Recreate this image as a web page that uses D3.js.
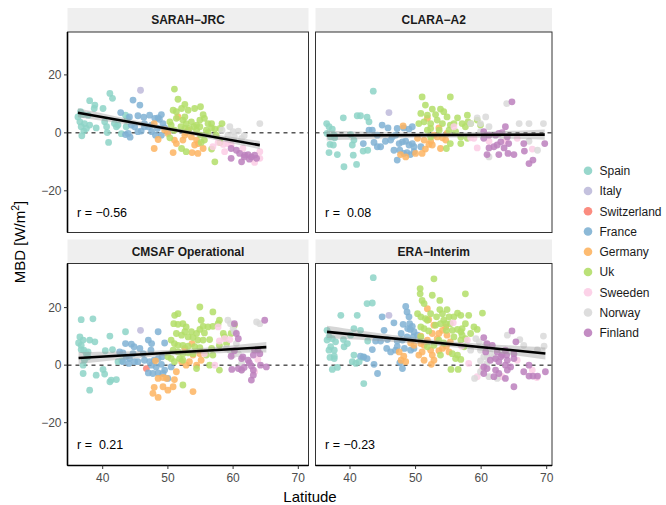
<!DOCTYPE html>
<html>
<head>
<meta charset="utf-8">
<script src="https://cdn.jsdelivr.net/npm/d3@7"></script>
<style>
  body { margin: 0; background: #fff; }
  text { font-family: "Liberation Sans", Arial, sans-serif; }
</style>
</head>
<body>
<svg id="chart" width="666" height="505"></svg>
<script>
// countries + Set3 colours (yellow skipped)
const countries = ["Spain", "Italy", "Switzerland", "France", "Germany", "Uk", "Sweeden", "Norway", "Finland"]
const colors = ["#8DD3C7", "#BEBADA", "#FB8072", "#80B1D3", "#FDB462", "#B3DE69", "#FCCDE5", "#D9D9D9", "#BC80BD"]

const panelNames = ["SARAH\u2212JRC", "CLARA\u2212A2", "CMSAF Operational", "ERA\u2212Interim"]
const rLabels = ["r = \u22120.56", "r =  0.08", "r =  0.21", "r = \u22120.23"]
const xTicks = [40, 50, 60, 70]
const yTicks = [-20, 0, 20]

// [latitude, MBD] per country, same order as countries
const sarah = [
  [[36.6,7.3],[36.2,5.5],[37.0,6.3],[36.5,3.8],[37.2,3.2],[36.7,2.1],[37.1,0.6],[36.8,-1.0],[37.5,1.5],[38.0,11.1],[38.7,8.4],[37.75,6.1],[38.0,2.7],[38.8,9.6],[39.0,1.7],[40.05,8.4],[40.3,3.8],[40.6,2.1],[40.7,0.1],[41.1,13.6],[41.5,11.9],[40.9,-3.3],[41.8,3.2],[42.1,2.1],[42.35,2.7],[42.86,-0.3],[43.5,6.1],[43.8,5.0],[43.6,2.1]],
  [[45.8,14.7]],
  [],
  [[42.76,7.0],[44.1,5.5],[44.65,11.3],[45.7,9.6],[45.4,5.9],[46.3,5.4],[47.2,6.1],[46.4,3.2],[44.9,2.1],[43.9,-0.2],[43.5,-0.6],[44.2,-1.5],[45.9,0.6],[47.0,2.1],[48.0,5.0],[48.5,5.2],[49.0,6.3],[48.7,4.7],[49.25,3.2],[47.5,0.4],[48.1,-0.8],[49.0,-0.8],[49.5,1.7],[50.0,0.4],[48.4,1.5],[46.4,2.1],[45.4,0.4],[47.5,2.7],[44.4,2.7]],
  [[47.9,3.2],[48.5,-2.3],[47.9,-5.4],[49.5,1.0],[51.55,5.5],[50.0,-0.2],[51.0,-2.5],[51.3,-3.7],[50.8,-6.8],[52.3,-2.5],[52.6,-0.8],[52.8,0.1],[53.6,-1.4],[54.1,-4.2],[54.4,-2.5],[54.7,-3.7],[53.7,-6.8],[54.6,-7.1],[55.4,-5.4],[53.1,0.9]],
  [[51.0,15.1],[51.55,11.6],[52.6,9.8],[50.8,7.8],[51.3,7.3],[52.1,8.4],[53.1,7.8],[54.1,8.4],[55.0,9.0],[55.4,6.3],[54.9,4.4],[55.6,5.0],[56.15,3.2],[56.7,3.2],[56.7,1.7],[52.3,4.4],[52.8,3.2],[53.6,3.8],[54.4,2.7],[54.0,2.1],[53.3,1.5],[50.5,2.7],[51.0,0.9],[52.0,2.1],[52.6,1.5],[54.4,0.9],[55.0,-0.8],[56.15,0.1],[57.2,1.3],[58.0,1.5],[58.3,3.2],[57.4,-0.8],[50.3,-1.7],[52.1,-5.4],[52.8,-6.5],[56.7,-5.6],[57.2,-10.0],[55.6,-2.5],[55.1,-3.3],[58.0,-3.3],[55.9,0.9],[51.3,5.0],[52.6,5.5],[50.3,3.8],[54.9,2.1]],
  [[56.9,-4.8],[57.7,-3.3],[58.7,-6.5],[59.2,-3.7],[59.7,-4.2],[61.5,-5.4],[63.3,-10.2],[64.1,-6.5],[64.1,-8.8],[58.5,-4.0]],
  [[58.3,0.9],[59.5,2.1],[60.0,0.4],[60.8,0.6],[61.3,-1.9],[59.2,-0.8],[60.2,-1.4],[64.1,3.2],[61.7,-1.0]],
  [[59.7,-5.4],[60.5,-6.0],[61.0,-7.1],[59.7,-8.8],[61.3,-10.0],[61.8,-7.7],[62.3,-7.5],[62.8,-8.3],[63.3,-7.7],[63.6,-8.8],[62.5,-9.1],[61.7,-8.3]]
]

const clara = [
  [[36.44,3.2],[36.8,2.1],[37.3,1.3],[36.5,-0.2],[37.05,-1.4],[37.66,-1.7],[36.95,-4.0],[37.46,-4.2],[36.8,-6.8],[38.07,-7.5],[38.98,5.2],[39.08,-11.7],[40.35,-4.2],[40.6,-2.5],[40.5,-7.7],[41.1,5.9],[41.6,5.9],[41.0,-10.9],[42.0,-6.3],[42.6,5.4],[42.9,3.8],[42.7,-6.0],[43.55,14.4],[37.6,-0.8],[40.1,-0.6]],
  [[45.94,7.0]],
  [],
  [[42.9,0.9],[43.4,0.9],[44.16,-0.8],[44.9,2.7],[45.8,1.7],[43.66,-3.3],[44.16,-4.8],[44.67,-4.8],[45.4,-2.9],[46.2,-2.5],[46.96,-0.8],[47.2,1.5],[48.2,1.7],[49.0,1.3],[49.5,2.1],[42.03,-3.7],[47.5,-3.7],[48.0,-3.1],[48.5,-2.9],[49.0,-4.2],[49.5,-3.7],[49.75,-4.8],[47.6,-6.0],[48.2,-7.1],[48.7,-6.8],[49.2,-7.5],[49.75,-6.5],[47.2,-9.4],[46.45,-1.4],[50.8,-4.8],[46.7,-6.0]],
  [[48.1,2.4],[51.8,5.0],[53.56,1.7],[52.8,-0.8],[51.3,-2.5],[52.3,-2.9],[53.3,-1.4],[54.1,-1.7],[54.6,-2.5],[52.04,-4.0],[52.55,-4.2],[51.5,-5.6],[51.0,-7.1],[53.8,-5.4],[54.8,-0.2],[50.3,-1.9],[48.5,-8.3],[47.7,-7.5],[50.0,-7.1]],
  [[51.0,12.4],[55.3,12.4],[51.5,9.6],[52.55,8.2],[53.8,8.2],[54.3,7.3],[50.8,6.7],[51.8,6.1],[53.05,6.3],[54.8,5.5],[56.4,5.2],[57.1,3.2],[57.9,6.1],[58.4,3.2],[50.5,3.2],[51.3,3.8],[52.3,3.2],[53.3,4.4],[54.1,3.2],[55.3,2.7],[55.85,3.2],[57.6,2.1],[58.0,3.8],[51.8,0.9],[52.3,1.5],[53.6,0.9],[55.1,0.9],[56.1,0.4],[56.9,-1.4],[57.9,-1.9],[59.4,4.4],[59.9,2.7],[55.3,-3.7],[56.9,-3.7],[54.7,-5.4],[52.3,-1.4]],
  [[55.85,2.1],[58.4,-1.7],[59.4,-5.2],[61.2,-2.9],[63.7,-2.9],[63.9,-1.7],[65.5,-1.9],[67.8,-5.6],[58.9,-1.9]],
  [[58.4,3.2],[59.4,5.2],[59.9,3.2],[60.7,5.5],[61.2,2.1],[63.9,10.1],[65.8,3.2],[67.3,3.2],[69.5,3.2],[61.2,-8.3],[67.3,-2.9],[68.6,-6.0],[59.9,0.4]],
  [[60.4,0.4],[61.2,-0.8],[62.2,-0.8],[62.7,-0.2],[63.2,0.1],[63.7,2.1],[64.0,-1.4],[64.2,-3.7],[63.0,-3.1],[61.95,-4.8],[62.45,-4.2],[63.5,-5.2],[60.9,-7.5],[61.2,-5.2],[62.7,-7.5],[64.1,-7.1],[65.0,-7.5],[64.7,10.7],[66.5,-3.7],[66.6,-6.3],[67.3,-10.6],[67.9,-9.4],[69.7,-3.7],[60.4,-1.9]]
]

const cmsaf = [
  [[36.7,15.8],[38.5,16.1],[36.5,9.8],[36.3,7.7],[37.0,8.7],[36.7,5.4],[37.1,5.2],[37.5,4.0],[37.75,2.9],[37.2,1.7],[37.0,0.0],[37.0,-2.9],[38.0,8.7],[38.8,8.1],[38.0,-8.7],[39.0,-3.5],[40.05,-1.5],[40.3,-3.1],[41.1,-5.8],[41.3,-5.2],[42.1,-5.0],[40.4,5.0],[41.1,10.1],[41.5,5.4],[42.35,1.2],[42.9,1.5],[43.5,11.6],[36.7,6.9],[37.75,4.6]],
  [[45.8,12.1]],
  [[46.7,-1.2]],
  [[42.6,4.6],[43.1,4.3],[43.5,7.5],[44.4,7.3],[44.8,6.4],[43.1,1.2],[43.6,2.9],[44.1,2.3],[44.65,4.0],[44.9,1.2],[45.4,1.2],[46.2,4.0],[47.0,8.7],[47.5,7.5],[47.4,5.2],[48.5,11.6],[49.5,7.7],[46.4,1.7],[47.2,1.2],[47.9,1.7],[48.5,2.3],[49.1,2.9],[47.5,0.0],[48.2,-0.6],[49.0,0.3],[49.5,-1.7],[47.0,-2.7],[47.7,-2.9],[48.5,-2.7],[49.25,-2.9],[50.5,-0.6],[50.0,-4.6],[45.7,5.8],[44.0,0.6]],
  [[48.1,1.5],[48.5,-4.6],[49.25,-4.3],[49.8,-4.6],[47.9,-7.7],[47.7,-9.8],[48.5,-11.2],[49.25,-7.5],[50.0,-8.7],[51.0,-5.0],[50.8,-7.5],[51.3,-2.3],[52.1,1.2],[52.8,0.0],[53.3,1.2],[53.85,3.5],[52.6,5.8],[53.7,7.5],[54.9,4.0],[55.1,1.7],[55.6,4.3],[53.85,-9.2],[54.4,0.0]],
  [[51.04,17.3],[51.55,17.9],[50.9,14.4],[54.9,20.2],[56.9,18.5],[57.9,15.6],[55.1,15.6],[55.4,13.5],[52.3,14.4],[52.8,13.3],[52.6,11.6],[53.6,11.6],[54.4,11.0],[54.9,12.4],[55.6,11.2],[56.15,13.3],[56.9,13.5],[57.7,14.4],[51.3,11.0],[52.1,10.4],[53.1,9.8],[53.85,9.6],[54.6,8.7],[55.4,8.7],[56.4,8.9],[50.5,8.7],[51.0,7.5],[51.55,6.9],[52.3,6.9],[53.1,6.6],[54.1,6.4],[54.9,6.1],[50.8,5.2],[51.55,4.6],[52.3,4.0],[53.1,4.3],[53.85,4.0],[56.7,5.8],[57.9,6.9],[58.7,9.8],[59.7,11.0],[60.2,13.9],[50.5,2.3],[51.0,1.2],[51.8,2.3],[52.3,1.7],[54.4,-1.2],[55.9,3.5],[56.4,0.0],[57.9,-1.7],[56.9,3.5],[58.5,11.0],[59.0,7.5],[52.3,-6.9],[50.0,2.9],[51.55,14.2]],
  [[57.7,13.3],[57.9,8.4],[58.7,9.2],[59.5,8.9],[55.6,4.0],[63.8,2.0],[63.3,-2.3],[57.2,0.0],[60.2,4.0]],
  [[59.2,15.6],[59.6,14.4],[60.0,12.7],[60.2,11.6],[60.5,7.5],[59.5,5.2],[60.0,3.5],[60.8,4.0],[61.3,0.6],[63.6,15.0],[64.1,14.4],[61.3,-1.7],[59.0,5.8]],
  [[60.2,14.4],[60.5,11.0],[60.8,9.2],[64.85,15.6],[60.2,5.0],[61.3,2.3],[61.5,2.9],[62.3,1.7],[63.1,3.5],[63.3,5.2],[63.8,5.2],[64.1,4.0],[62.5,0.8],[62.8,-0.3],[63.1,-1.7],[59.8,-1.5],[60.8,-1.2],[61.7,-0.8],[61.3,-1.7],[63.1,-3.5],[62.8,-5.2],[65.1,-0.6],[64.2,0.0],[59.7,3.1]]
]

const era = [
  [[36.5,12.1],[36.8,9.8],[36.5,8.7],[37.3,9.2],[37.8,8.1],[37.05,6.4],[36.8,5.2],[37.6,5.2],[36.95,2.7],[37.6,2.3],[37.3,-1.5],[38.07,-0.8],[38.6,17.3],[39.0,8.9],[39.1,6.4],[39.6,7.5],[40.1,10.4],[40.6,3.5],[40.35,1.2],[40.9,0.6],[41.1,17.3],[41.4,1.2],[42.0,2.7],[42.1,-6.4],[41.6,12.1],[42.6,21.4],[42.7,8.4],[43.55,30.4],[43.4,21.6],[37.6,3.1],[40.6,12.7]],
  [[45.94,17.3]],
  [],
  [[41.6,3.1],[42.1,2.9],[42.6,2.3],[43.4,5.4],[43.66,0.3],[44.2,-2.9],[43.9,8.4],[44.67,8.4],[44.9,16.8],[45.2,12.1],[45.7,8.9],[45.6,5.8],[46.7,14.7],[46.2,4.6],[46.96,5.2],[47.2,8.4],[47.8,11.0],[48.0,8.7],[48.1,14.2],[48.5,20.4],[48.7,18.5],[49.0,16.8],[49.1,14.4],[49.2,12.4],[49.75,11.6],[49.65,9.8],[50.3,10.4],[48.7,9.8],[48.3,5.8],[49.75,5.8],[49.25,5.2],[48.0,-1.2],[47.6,0.8],[48.8,12.7],[49.5,13.5],[47.2,6.4]],
  [[47.5,4.6],[47.8,1.7],[48.5,1.2],[49.25,7.7],[49.75,6.9],[50.8,7.5],[50.5,3.5],[51.0,4.6],[51.8,19.6],[52.0,15.8],[52.8,13.9],[52.55,11.0],[53.56,11.0],[53.3,9.2],[54.1,12.1],[54.6,13.3],[54.8,10.4],[52.3,5.2],[52.55,3.5],[53.56,5.0],[54.1,5.8],[54.7,6.6],[55.1,4.6],[51.3,1.7],[52.8,1.7],[50.8,10.1],[51.8,8.7],[51.3,6.9],[55.3,8.1],[52.4,0.3],[48.2,3.1]],
  [[50.7,26.6],[50.7,24.8],[51.0,22.5],[51.3,21.4],[51.8,15.6],[52.55,24.3],[52.8,30.0],[53.7,22.5],[53.7,19.3],[54.8,19.3],[54.1,17.9],[55.1,16.8],[55.85,16.8],[56.4,18.1],[56.9,17.3],[57.6,24.8],[58.1,17.3],[60.2,18.1],[50.3,17.9],[50.8,16.8],[51.5,16.2],[52.3,17.9],[53.2,16.8],[54.3,15.6],[55.3,14.4],[53.05,13.9],[53.8,14.4],[54.6,14.4],[55.6,12.1],[56.4,12.4],[56.9,11.6],[57.1,12.7],[50.8,13.3],[51.3,12.7],[52.0,11.9],[57.6,14.4],[58.9,13.3],[58.4,11.0],[59.4,12.4],[55.85,9.8],[56.9,8.7],[57.6,9.2],[50.8,9.8],[51.8,6.4],[52.8,6.9],[53.56,8.7],[54.3,7.7],[56.4,3.5],[56.9,2.0],[56.1,2.3],[55.4,-1.5],[56.5,-1.5],[55.6,4.0],[57.4,6.4],[54.7,12.1],[53.8,3.5],[57.1,10.4]],
  [[55.75,14.7],[57.9,8.7],[57.0,6.6],[58.1,0.6],[59.4,-4.0],[60.2,-1.2],[63.2,-4.0],[65.5,1.7],[67.8,-1.7],[68.5,-4.3]],
  [[58.4,5.2],[59.2,9.2],[59.7,8.1],[59.9,5.2],[60.7,7.3],[60.9,2.9],[60.9,0.6],[61.4,4.0],[61.95,2.9],[60.4,2.9],[59.0,-4.6],[59.9,-2.3],[61.2,-4.0],[62.45,-4.6],[64.0,10.4],[65.9,8.9],[66.5,6.9],[69.5,10.1],[69.6,6.6],[68.6,5.4],[59.9,1.5]],
  [[60.4,9.6],[60.9,7.5],[61.7,6.9],[60.7,4.6],[61.4,1.7],[62.2,2.3],[63.0,2.9],[64.0,1.7],[64.7,11.9],[65.3,8.1],[63.7,5.2],[62.45,4.6],[63.2,3.5],[63.9,3.5],[60.4,-0.6],[60.9,-1.2],[62.2,-1.7],[62.7,1.2],[63.7,0.0],[64.5,-0.6],[60.4,-2.9],[61.95,-4.0],[62.7,-2.9],[63.7,-4.6],[65.0,-7.5],[66.5,-2.3],[67.3,-3.8],[67.9,-3.8],[68.6,-3.8],[69.8,-2.3],[64.0,-1.7],[65.0,4.0],[67.3,0.0],[65.0,2.3]]
]

const panelData = [sarah, clara, cmsaf, era]

const svg = d3.select("#chart")

// panel geometry (2 x 2 facets)
const colX = [[67.5, 308.5], [315.5, 552]]
const rowY = [[32, 232.5], [263.5, 465.5]]
const stripH = 24

// x scales by column, y scales by row (set so the ticks fall where they do)
const xScales = [
  d3.scaleLinear().domain([40, 70]).range([102.7, 298.3]),
  d3.scaleLinear().domain([40, 70]).range([350, 546.7])
]
const yScales = [
  d3.scaleLinear().domain([-20, 20]).range([190.8, 74.9]),
  d3.scaleLinear().domain([-20, 20]).range([422.7, 307.6])
]

function fitLm(pts) {
  const n = pts.length
  const xm = d3.mean(pts, d => d[0]), ym = d3.mean(pts, d => d[1])
  let sxx = 0, sxy = 0
  pts.forEach(d => { sxx += (d[0] - xm) ** 2; sxy += (d[0] - xm) * (d[1] - ym) })
  const b = sxy / sxx, a = ym - b * xm
  let sse = 0
  pts.forEach(d => { sse += (d[1] - a - b * d[0]) ** 2 })
  const s = Math.sqrt(sse / (n - 2))
  return { a, b, n, xm, sxx, s, x0: d3.min(pts, d => d[0]), x1: d3.max(pts, d => d[0]) }
}

panelNames.forEach((name, i) => {
  const col = i % 2, row = Math.floor(i / 2)
  const [x0, x1] = colX[col], [y0, y1] = rowY[row]
  const x = xScales[col], y = yScales[row]
  const g = svg.append("g")

  // strip
  g.append("rect").attr("x", x0).attr("y", y0 - stripH).attr("width", x1 - x0).attr("height", stripH)
    .attr("fill", "#EFEFEF")
  g.append("text").attr("x", (x0 + x1) / 2).attr("y", y0 - stripH / 2 + 4.3)
    .attr("text-anchor", "middle").attr("font-size", 12).attr("font-weight", "bold").attr("fill", "#1A1A1A")
    .text(name)

  const clipId = "clip" + i
  svg.append("clipPath").attr("id", clipId).append("rect")
    .attr("x", x0).attr("y", y0).attr("width", x1 - x0).attr("height", y1 - y0)
  const inner = g.append("g").attr("clip-path", `url(#${clipId})`)

  // zero reference
  inner.append("line").attr("x1", x0).attr("x2", x1).attr("y1", y(0)).attr("y2", y(0))
    .attr("stroke", "#000").attr("stroke-width", 1).attr("stroke-dasharray", "4,4")

  // points
  const groups = panelData[i]
  groups.forEach((pts, c) => {
    inner.selectAll(null).data(pts).enter().append("circle")
      .attr("cx", d => x(d[0])).attr("cy", d => y(d[1])).attr("r", 3.4)
      .attr("fill", colors[c]).attr("fill-opacity", 0.85)
  })

  // linear fit with confidence band
  const all = groups.flat()
  const fit = fitLm(all)
  const xs = d3.range(0, 41).map(k => fit.x0 + (fit.x1 - fit.x0) * k / 40)
  const se = xv => 1.97 * fit.s * Math.sqrt(1 / fit.n + (xv - fit.xm) ** 2 / fit.sxx)
  inner.append("path")
    .attr("d", d3.area().x(d => x(d)).y0(d => y(fit.a + fit.b * d - se(d))).y1(d => y(fit.a + fit.b * d + se(d)))(xs))
    .attr("fill", "#999").attr("fill-opacity", 0.4)
  inner.append("line")
    .attr("x1", x(fit.x0)).attr("x2", x(fit.x1))
    .attr("y1", y(fit.a + fit.b * fit.x0)).attr("y2", y(fit.a + fit.b * fit.x1))
    .attr("stroke", "#000").attr("stroke-width", 2.6)

  // r label
  g.append("text").attr("x", x0 + 9.5).attr("y", y(-27.7) + 4.3)
    .attr("font-size", 12.5).attr("fill", "#000").style("white-space", "pre")
    .text(rLabels[i])

  // border
  g.append("rect").attr("x", x0).attr("y", y0).attr("width", x1 - x0).attr("height", y1 - y0)
    .attr("fill", "none").attr("stroke", "#333").attr("stroke-width", 1)

  // y axis on left column
  if (col === 0) {
    g.append("line").attr("x1", x0).attr("x2", x0).attr("y1", y0).attr("y2", y1)
      .attr("stroke", "#000").attr("stroke-width", 1.6)
    yTicks.forEach(t => {
      g.append("line").attr("x1", x0 - 3.5).attr("x2", x0).attr("y1", y(t)).attr("y2", y(t))
        .attr("stroke", "#333").attr("stroke-width", 1)
      g.append("text").attr("x", x0 - 6).attr("y", y(t) + 4.2).attr("text-anchor", "end")
        .attr("font-size", 12).attr("fill", "#4D4D4D")
        .text(t < 0 ? "\u2212" + Math.abs(t) : t)
    })
  }
  // x axis on bottom row
  if (row === 1) {
    g.append("line").attr("x1", x0).attr("x2", x1).attr("y1", y1).attr("y2", y1)
      .attr("stroke", "#000").attr("stroke-width", 1.6)
    xTicks.forEach(t => {
      g.append("line").attr("x1", x(t)).attr("x2", x(t)).attr("y1", y1).attr("y2", y1 + 3.5)
        .attr("stroke", "#333").attr("stroke-width", 1)
      g.append("text").attr("x", x(t)).attr("y", y1 + 16).attr("text-anchor", "middle")
        .attr("font-size", 12).attr("fill", "#4D4D4D").text(t)
    })
  }
})

// axis titles
svg.append("text").attr("x", 310).attr("y", 502).attr("text-anchor", "middle")
  .attr("font-size", 15).attr("fill", "#000").text("Latitude")

const yt = svg.append("text").attr("transform", "translate(25,242) rotate(-90)")
  .attr("text-anchor", "middle").attr("font-size", 15).attr("fill", "#000")
yt.append("tspan").text("MBD [W/m")
yt.append("tspan").attr("font-size", 10.5).attr("dy", -6).text("2")
yt.append("tspan").attr("dy", 6).text("]")

// legend
const legend = svg.append("g")
countries.forEach((c, k) => {
  const ly = 170.7 + k * 20.25
  legend.append("circle").attr("cx", 588).attr("cy", ly).attr("r", 4.3)
    .attr("fill", colors[k]).attr("fill-opacity", 0.9)
  legend.append("text").attr("x", 599.5).attr("y", ly + 4.3)
    .attr("font-size", 12).attr("fill", "#1A1A1A").text(c)
})
</script>
</body>
</html>
